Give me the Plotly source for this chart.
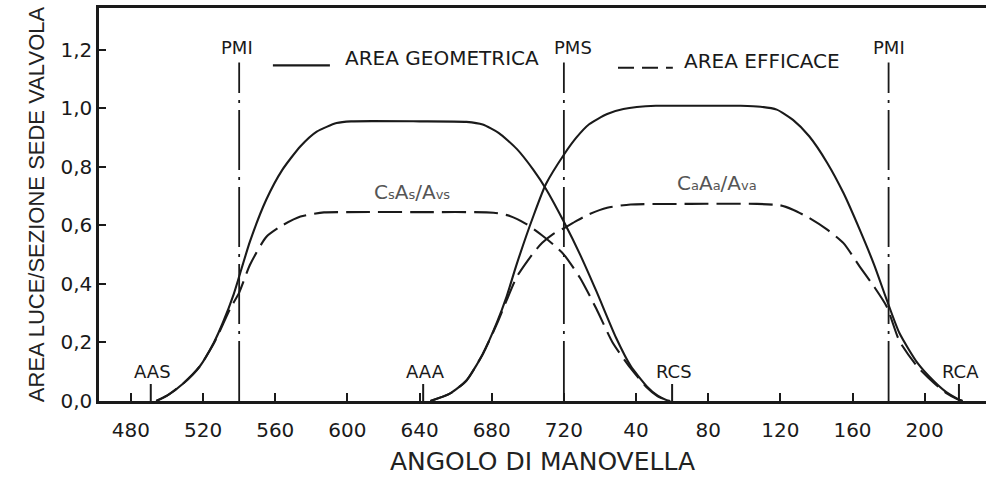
import plotly.graph_objects as go

# ---------------- data (crank angle in degrees, continuous scale) ----------------
exh_geo_x = [494, 500, 509, 518, 526, 531, 537, 540, 546, 555, 564, 574, 583, 594, 602, 640, 666, 675, 684, 694, 703, 710, 720, 729, 738, 749, 757, 766, 772, 777, 779]
exh_geo_y = [0, 0.018, 0.06, 0.117, 0.2, 0.268, 0.365, 0.425, 0.545, 0.687, 0.79, 0.87, 0.92, 0.949, 0.955, 0.955, 0.953, 0.944, 0.915, 0.86, 0.79, 0.725, 0.612, 0.5, 0.375, 0.215, 0.12, 0.05, 0.018, 0.003, 0]

exh_eff_x = [494, 500, 509, 518, 526, 531, 535, 540, 546, 555, 564, 574, 587, 600, 640, 681, 690, 699, 708, 714, 720, 729, 738, 747, 757, 766, 772, 777, 779]
exh_eff_y = [0, 0.018, 0.06, 0.117, 0.197, 0.262, 0.315, 0.37, 0.465, 0.56, 0.60, 0.63, 0.644, 0.645, 0.645, 0.643, 0.632, 0.605, 0.565, 0.535, 0.5, 0.42, 0.315, 0.2, 0.112, 0.046, 0.016, 0.003, 0]

int_geo_x = [646, 657, 666, 675, 683, 688, 694, 703, 710, 720, 727, 734, 744, 753, 771, 790, 818, 829, 838, 847, 856, 866, 875, 884, 892, 899, 906, 916, 925, 932, 938, 941]
int_geo_y = [0, 0.026, 0.07, 0.16, 0.27, 0.352, 0.47, 0.63, 0.74, 0.841, 0.9, 0.945, 0.98, 0.997, 1.008, 1.008, 1.008, 1.005, 0.995, 0.96, 0.904, 0.813, 0.71, 0.585, 0.465, 0.345, 0.232, 0.13, 0.068, 0.03, 0.008, 0]

int_eff_x = [646, 657, 666, 675, 683, 688, 694, 703, 708, 714, 720, 727, 734, 744, 757, 790, 827, 840, 847, 856, 866, 875, 884, 892, 899, 906, 916, 925, 932, 938, 941]
int_eff_y = [0, 0.026, 0.07, 0.16, 0.265, 0.34, 0.425, 0.505, 0.54, 0.57, 0.59, 0.615, 0.638, 0.66, 0.671, 0.673, 0.673, 0.668, 0.653, 0.625, 0.585, 0.539, 0.459, 0.39, 0.322, 0.205, 0.117, 0.062, 0.027, 0.007, 0]

dead_center_x = [540, 720, 900]
dead_center_labels = ["PMI", "PMS", "PMI"]
dead_center_top = 1.156

event_x = [491, 642, 780, 939]
event_labels = ["AAS", "AAA", "RCS", "RCA"]

x_tick_vals = [480, 520, 560, 600, 640, 680, 720, 760, 800, 840, 880, 920]
x_tick_text = ["480", "520", "560", "600", "640", "680", "720", "40", "80", "120", "160", "200"]
y_tick_vals = [0, 0.2, 0.4, 0.6, 0.8, 1.0, 1.2]
y_tick_text = ["0,0", "0,2", "0,4", "0,6", "0,8", "1,0", "1,2"]

INK = "#1a1a1a"
FONT = "DejaVu Sans"

fig = go.Figure()

curve_w = 2.1
dash_eff = "24px,8px"
for xs, ys, dash in [(exh_geo_x, exh_geo_y, "solid"), (exh_eff_x, exh_eff_y, dash_eff),
                     (int_geo_x, int_geo_y, "solid"), (int_eff_x, int_eff_y, dash_eff)]:
    fig.add_trace(go.Scatter(x=xs, y=ys, mode="lines",
                             line=dict(color=INK, width=curve_w, dash=dash, shape="spline", smoothing=0.6),
                             hoverinfo="skip"))

# dead-centre dash-dot lines
for xv in dead_center_x:
    fig.add_trace(go.Scatter(x=[xv, xv], y=[0, dead_center_top], mode="lines",
                             line=dict(color=INK, width=1.8, dash="60px,7px,3px,7px"),
                             hoverinfo="skip"))

# valve event markers
ev_x, ev_y = [], []
for xv in event_x:
    ev_x += [xv, xv, None]
    ev_y += [0, 0.058, None]
fig.add_trace(go.Scatter(x=ev_x, y=ev_y, mode="lines", line=dict(color=INK, width=2),
                         hoverinfo="skip"))

annotations = []
shifts = [-2, 9, 0]
for xv, lab, sh in zip(dead_center_x, dead_center_labels, shifts):
    annotations.append(dict(x=xv, y=1.207, text=lab, showarrow=False, xshift=sh,
                            font=dict(family=FONT, size=18, color=INK)))
for xv, lab in zip(event_x, event_labels):
    annotations.append(dict(x=xv, y=0.1, text=lab, showarrow=False, xshift=2,
                            font=dict(family=FONT, size=18, color=INK)))

sub = "<span style='font-size:13px'>{}</span>"
annotations.append(dict(x=636, y=0.713, showarrow=False,
                        text="C" + sub.format("s") + "A" + sub.format("s") + "/A" + sub.format("vs"),
                        font=dict(family=FONT, size=20, color="#555555")))
annotations.append(dict(x=805, y=0.744, showarrow=False,
                        text="C" + sub.format("a") + "A" + sub.format("a") + "/A" + sub.format("va"),
                        font=dict(family=FONT, size=20, color="#555555")))

# legend keys
annotations.append(dict(x=597.5, y=1.171, text="AREA GEOMETRICA", showarrow=False, xanchor="left",
                        font=dict(family=FONT, size=20, color=INK)))
annotations.append(dict(x=785.4, y=1.162, text="AREA EFFICACE", showarrow=False, xanchor="left",
                        font=dict(family=FONT, size=20, color=INK)))

shapes = [
    dict(type="line", xref="x", yref="y", x0=558.7, x1=590.3, y0=1.146, y1=1.146,
         line=dict(color=INK, width=2.2)),
    dict(type="line", xref="x", yref="y", x0=750, x1=780.4, y0=1.138, y1=1.138,
         line=dict(color=INK, width=2.2, dash="16px,8px")),
]

fig.update_layout(
    width=986, height=481,
    margin=dict(l=99, r=0, t=8, b=80),
    paper_bgcolor="white", plot_bgcolor="white",
    showlegend=False,
    font=dict(family=FONT, color=INK),
    annotations=annotations,
    shapes=shapes,
    xaxis=dict(range=[462.3, 954], showline=True, linecolor=INK, linewidth=2.5, mirror=True,
               ticks="inside", ticklen=8, tickwidth=2, tickcolor=INK,
               tickvals=x_tick_vals, ticktext=x_tick_text,
               tickfont=dict(family=FONT, size=20, color=INK),
               ticklabelstandoff=9,
               showgrid=False, zeroline=False,
               title=dict(text="ANGOLO DI MANOVELLA", standoff=12,
                          font=dict(family=FONT, size=25, color="#222222"))),
    yaxis=dict(range=[0, 1.342], showline=True, linecolor=INK, linewidth=2.5,
               ticks="inside", ticklen=7, tickwidth=2, tickcolor=INK,
               tickvals=y_tick_vals, ticktext=y_tick_text,
               tickfont=dict(family=FONT, size=20, color=INK),
               showgrid=False, zeroline=False,
               title=dict(text="AREA LUCE/SEZIONE SEDE VALVOLA", standoff=10,
                          font=dict(family="Liberation Sans", size=22, color="#222222"))),
)

fig.write_html("out.html")
